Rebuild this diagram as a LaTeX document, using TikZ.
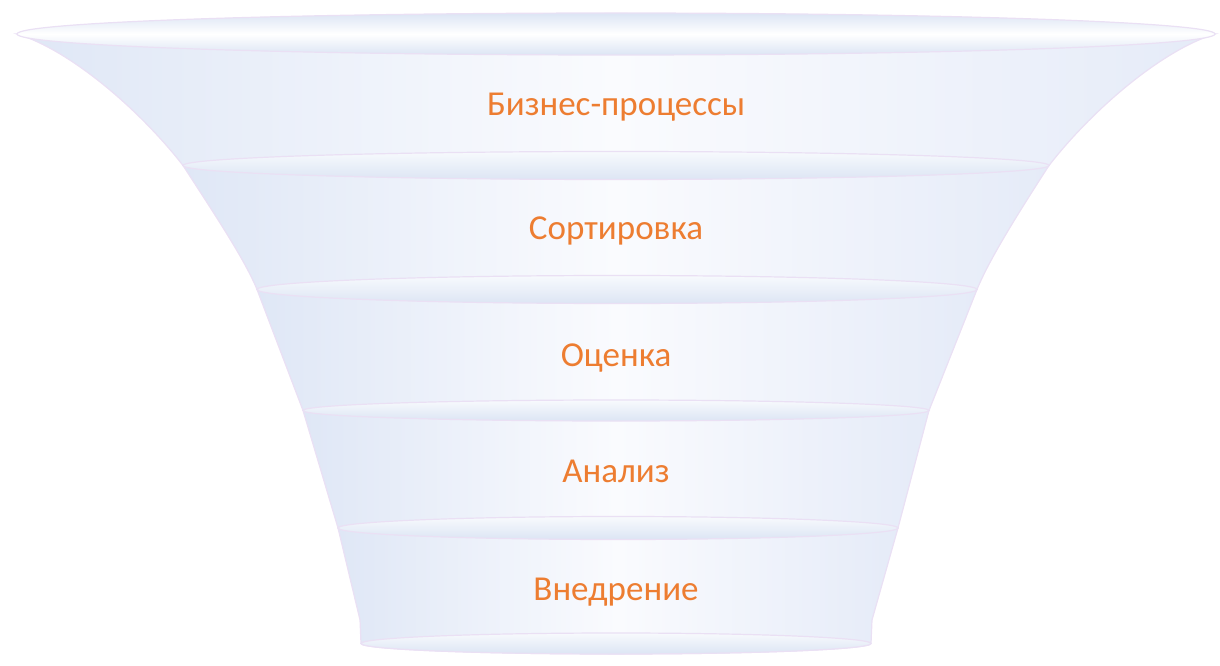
\documentclass[tikz,border=0pt]{standalone}
\usepackage{fontspec}
\setmainfont{Carlito}
\definecolor{txtorange}{HTML}{ED7D31}
\definecolor{rimline}{HTML}{EAE0F4}
\definecolor{bodyblue}{HTML}{DFE7F6}
\definecolor{bodyblueR}{HTML}{E5EBF8}
\definecolor{bodymid}{HTML}{FAFBFE}
\definecolor{rimblue}{HTML}{DCE5F4}
\definecolor{rimwhite}{HTML}{F8FAFD}
\begin{document}
\begin{tikzpicture}[x=1pt,y=1pt,
  body/.style={draw=rimline, line width=1.2pt, left color=bodyblue, right color=bodyblueR, middle color=bodymid},
  rim/.style={draw=rimline, line width=1.2pt, top color=rimwhite, bottom color=rimblue},
  toprim/.style={draw=rimline, line width=1.2pt, top color=rimblue, bottom color=rimblue, middle color=white},
  label/.style={text=txtorange, font=\fontsize{35}{42}\selectfont, anchor=base}]
\useasboundingbox (0,0) rectangle (1220,665);
% ellipse tips
\coordinate (a0) at (17,631);   \coordinate (b0) at (1215,631);
\coordinate (a1) at (183,499.5);\coordinate (b1) at (1049,499.5);
\coordinate (a2) at (257,375.5);\coordinate (b2) at (977,375.5);
\coordinate (a3) at (303,254.5);\coordinate (b3) at (929,254.5);
\coordinate (a4) at (338,137);  \coordinate (b4) at (898,137);
\coordinate (a5) at (361,21.5); \coordinate (b5) at (871,21.5);
% segment 1
\draw[body] (a0) .. controls (70,615) and (140,555) .. (a1)
  arc[start angle=180, end angle=360, x radius=433, y radius=14]
  .. controls (1092,555) and (1162,615) .. (b0) -- cycle;
\draw[toprim] (616,631) ellipse[x radius=599, y radius=21];
% segment 2
\draw[body] (a1) .. controls (215,450) and (245,405) .. (a2)
  arc[start angle=180, end angle=360, x radius=360, y radius=14]
  .. controls (989,405) and (1017,450) .. (b1) -- cycle;
\draw[rim] (616,499.5) ellipse[x radius=433, y radius=14];
% segment 3
\draw[body] (a2) -- (a3)
  arc[start angle=180, end angle=360, x radius=313, y radius=10.5]
  -- (b2) -- cycle;
\draw[rim] (617,375.5) ellipse[x radius=360, y radius=14];
% segment 4
\draw[body] (a3) -- (a4)
  arc[start angle=180, end angle=360, x radius=280, y radius=11.5]
  -- (b3) -- cycle;
\draw[rim] (616,254.5) ellipse[x radius=313, y radius=10.5];
% segment 5
\draw[body] (a4) -- (360,45) -- (a5)
  arc[start angle=180, end angle=360, x radius=255, y radius=10.5]
  -- (872,45) -- (b4) -- cycle;
\draw[rim] (618,137) ellipse[x radius=280, y radius=11.5];
\draw[rim] (616,21.5) ellipse[x radius=255, y radius=10.5];
% labels
\node[label] (t1) at (616,549) {Бизнес-процессы};
\node[label] (t2) at (616,425) {Сортировка};
\node[label] (t3) at (616,299) {Оценка};
\node[label] (t4) at (616,183) {Анализ};
\node[label] (t5) at (616,65) {Внедрение};
\end{tikzpicture}
\end{document}
